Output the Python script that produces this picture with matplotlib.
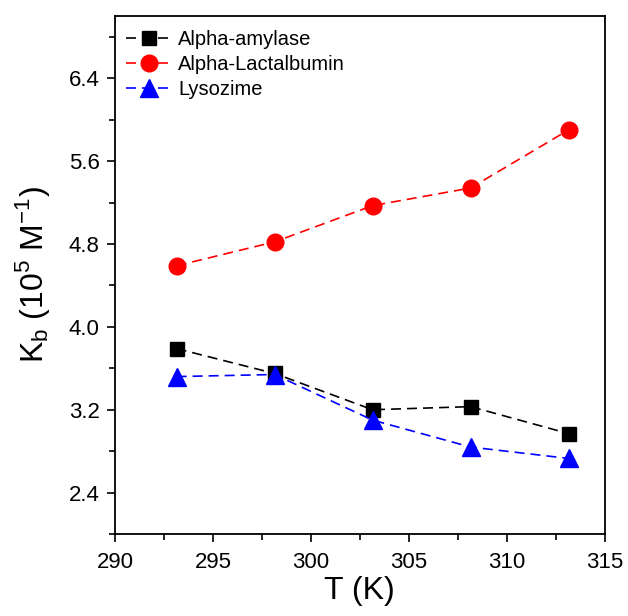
import matplotlib.pyplot as plt
from matplotlib.ticker import MultipleLocator

plt.rcParams['font.family'] = ['Liberation Sans', 'DejaVu Sans']

# temperatures (K) and binding constants Kb (10^5 M^-1)
temps = [293.15, 298.15, 303.15, 308.15, 313.15]
amylase = [3.79, 3.55, 3.20, 3.23, 2.97]
lactalbumin = [4.59, 4.82, 5.17, 5.34, 5.90]
lysozime = [3.52, 3.54, 3.10, 2.84, 2.73]

fig = plt.figure(figsize=(6.28, 6.16), dpi=100)
ax = fig.add_axes([0.183, 0.133, 0.78, 0.841])

dash = (6, 3.6)
ax.plot(temps, amylase, color='k', marker='s', markersize=10, lw=1.2,
        linestyle='--', dashes=dash, label='Alpha-amylase')
ax.plot(temps, lactalbumin, color='red', marker='o', markersize=12, lw=1.2,
        linestyle='--', dashes=dash, label='Alpha-Lactalbumin')
ax.plot(temps, lysozime, color='blue', marker='^', markersize=13, lw=1.2,
        linestyle='--', dashes=dash, label='Lysozime')

ax.set_xlim(290, 315)
ax.set_ylim(2.0, 7.0)
ax.xaxis.set_major_locator(MultipleLocator(5))
ax.xaxis.set_minor_locator(MultipleLocator(2.5))
ax.yaxis.set_minor_locator(MultipleLocator(0.4))
ax.set_yticks([2.4, 3.2, 4.0, 4.8, 5.6, 6.4])
ax.tick_params(which='major', direction='out', length=6, width=1.2, labelsize=16, pad=5)
ax.tick_params(axis='x', which='major', pad=7)
ax.tick_params(which='minor', direction='out', length=4, width=1.2)
for s in ax.spines.values():
    s.set_linewidth(1.3)

ax.set_xlabel('T (K)', fontsize=23, labelpad=2)
ax.set_ylabel(r'K$_\mathregular{b}$ (10$^\mathregular{5}$ M$^\mathregular{-1}$)', fontsize=23, labelpad=12)

ax.legend(loc='upper left', bbox_to_anchor=(0.0, 0.994), frameon=False,
          fontsize=14.5, handlelength=2.3, handletextpad=0.3, labelspacing=0.3,
          borderaxespad=0.15)

fig.savefig('out.png', dpi=100)
